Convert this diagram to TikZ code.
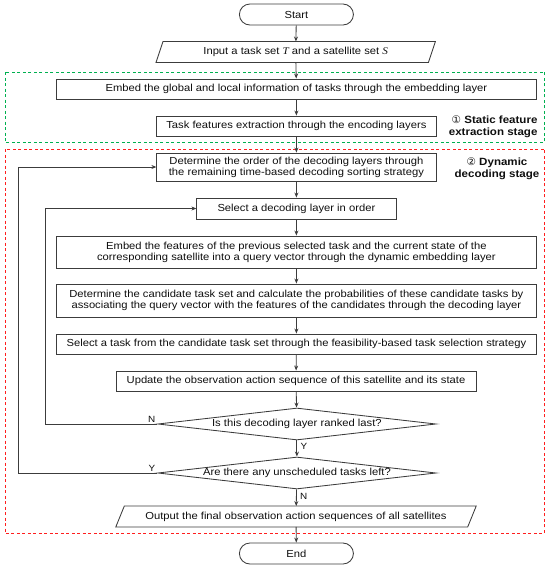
\documentclass[tikz,border=0pt]{standalone}
\usepackage{fontspec}
\setmainfont{Liberation Sans}[FakeStretch=1.1]
\newfontfamily\symfont{DejaVu Sans}
\newfontfamily\tnr{Liberation Serif}[FakeStretch=1.1]
\usetikzlibrary{shapes.geometric,shapes.misc,arrows.meta}
\definecolor{linegray}{RGB}{60,60,60}
\definecolor{txtgray}{RGB}{15,15,15}
\definecolor{stgreen}{RGB}{0,176,80}
\definecolor{stred}{RGB}{255,30,30}
\tikzset{
  every node/.style={font=\fontsize{10.2}{11}\selectfont, text=txtgray},
  procbox/.style={draw=linegray, line width=0.85pt, rectangle, minimum height=20pt, inner sep=1pt, align=center},
  termbox/.style={draw=linegray, line width=0.85pt, rounded rectangle, minimum width=120.7pt, minimum height=21pt},
  iobox/.style={rectangle, minimum height=20.5pt, inner sep=1pt},
  decbox/.style={draw=linegray, line width=0.85pt, diamond, aspect=8.7, minimum width=278.2pt, minimum height=32pt, inner sep=0pt},
  flow/.style={draw=linegray, line width=0.85pt, -{Stealth[length=5pt,width=4pt]}},
  edge/.style={draw=linegray, line width=0.85pt},
  stagebox/.style={line width=0.8pt, dash pattern=on 3pt off 2.5pt},
  stagelabel/.style={font=\fontsize{10.5}{12}\selectfont\bfseries},
  yn/.style={font=\fontsize{9}{10}\selectfont}
}
\begin{document}
\begin{tikzpicture}[x=1pt,y=-1pt]
\useasboundingbox (0,0) rectangle (550,570);
% stage boxes
\draw[stagebox, draw=stgreen] (4.9,72) rectangle (544.7,142);
\draw[stagebox, draw=stred] (4.9,149) rectangle (544.7,533);
\node[stagelabel, anchor=north east, align=right] (lab1) at (541,112) {{\symfont\mdseries ①} Static feature\\extraction stage};
\node[stagelabel, anchor=north, align=center] (lab2) at (497,154) {{\symfont\mdseries ②} Dynamic\\decoding stage};
% nodes
\node[termbox] (start) at (296.4,14.5) {Start};
\node[iobox, minimum width=272pt] (input) at (295.7,52) {Input a task set {\tnr\itshape T} and a satellite set {\tnr\itshape S}};
\draw[edge] ([xshift=3.5pt]input.north west) -- ([xshift=3.5pt]input.north east) -- ([xshift=-3.5pt]input.south east) -- ([xshift=-3.5pt]input.south west) -- cycle;
\node[procbox, minimum width=479.2pt] (embed) at (296.4,89) {Embed the global and local information of tasks through the embedding layer};
\node[procbox, minimum width=279.2pt] (encode) at (296.4,126) {Task features extraction through the encoding layers};
\node[procbox, minimum width=279.2pt, minimum height=28pt] (order) at (296.4,167) {Determine the order of the decoding layers through\\the remaining time-based decoding sorting strategy};
\node[procbox, minimum width=199.2pt, minimum height=21pt] (sel) at (296.4,208.5) {Select a decoding layer in order};
\node[procbox, minimum width=479.2pt, minimum height=32pt] (dyn) at (296.4,252) {Embed the features of the previous selected task and the current state of the\\corresponding satellite into a query vector through the dynamic embedding layer};
\node[procbox, minimum width=479.2pt, minimum height=33pt] (cand) at (296.4,300.5) {Determine the candidate task set and calculate the probabilities of these candidate tasks by\\associating the query vector with the features of the candidates through the decoding layer};
\node[procbox, minimum width=479.2pt] (pick) at (296.4,344) {Select a task from the candidate task set through the feasibility-based task selection strategy};
\node[procbox, minimum width=360pt] (upd) at (296,381) {Update the observation action sequence of this satellite and its state};
\node[decbox] (last) at (296.9,424) {Is this decoding layer ranked last?};
\node[decbox] (left) at (296.9,473) {Are there any unscheduled tasks left?};
\node[iobox, minimum width=351.5pt] (out) at (296,516.5) {Output the final observation action sequences of all satellites};
\draw[edge] ([xshift=4.25pt]out.north west) -- ([xshift=4.25pt]out.north east) -- ([xshift=-4.25pt]out.south east) -- ([xshift=-4.25pt]out.south west) -- cycle;
\node[termbox] (end) at (296.4,553.5) {End};
% loop corners
\coordinate (c1) at (45.6,424);
\coordinate (c2) at (45.6,208.5);
\coordinate (c3) at (18.2,473);
\coordinate (c4) at (18.2,167);
% connectors
\draw[flow] (start) -- (input);
\draw[flow] (input) -- (embed);
\draw[flow] (embed) -- (encode);
\draw[flow] (encode) -- (order);
\draw[flow] (order) -- (sel);
\draw[flow] (sel) -- (dyn);
\draw[flow] (dyn) -- (cand);
\draw[flow] (cand) -- (pick);
\draw[flow] (pick) -- (upd);
\draw[flow] (upd) -- (last);
\draw[flow] (last) -- node[yn, right, pos=0.4] {Y} (left);
\draw[flow] (left) -- node[yn, right, pos=0.4] {N} (out);
\draw[flow] (out) -- (end);
\draw[flow] (last.west) -- (c1) -- (c2) -- (sel.west);
\draw[flow] (left.west) -- (c3) -- (c4) -- (order.west);
\node[yn, above left, inner sep=1pt] (nlab) at ([xshift=-1pt]last.west) {N};
\node[yn, above left, inner sep=1pt] (ylab) at ([xshift=-1pt]left.west) {Y};
\end{tikzpicture}
\end{document}
